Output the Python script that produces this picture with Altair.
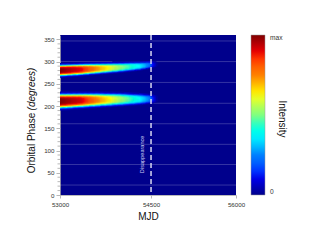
import altair as alt
import numpy as np
import pandas as pd

# ---- values ----
mjd_knots = [53000, 53330, 53660, 53990, 54320, 54480, 54600]
upper_center = [280, 282, 284.5, 287, 290, 292.5, 294]
upper_width = [11.5, 11, 10, 9, 7.5, 6.5, 5]
upper_peak = [1.0, 0.9, 0.7, 0.52, 0.36, 0.22, 0.0]
lower_center = [211, 212.5, 214, 215, 215.5, 216, 216]
lower_width = [15, 14, 13.2, 12, 10, 8.5, 7]
lower_peak = [1.0, 0.92, 0.72, 0.54, 0.37, 0.24, 0.0]

grid_phases = [22.4, 68.6, 114.0, 160.3, 206.4, 253.3, 300.2, 346.6]
y_ticks = [0, 50, 100, 150, 200, 250, 300, 350]
y_minor = [v for v in range(10, 360, 10) if v % 50 != 0]
x_ticks = [53000, 54500, 55900]
event_mjd = [54500]
event_label = ["Disappearance"]

jet_stops = [0, 0.125, 0.25, 0.375, 0.5, 0.625, 0.75, 0.875, 1.0]
jet_colors = ["#00008C", "#0000FF", "#0080FF", "#00FFFF", "#80FF80",
              "#FFFF00", "#FF8000", "#FF0000", "#800000"]

# ---- build the intensity field from the read band parameters ----
mstep, pstep = 20, 2
mjd_grid = np.arange(53000, 54620, mstep)
ph_grid = np.arange(170, 322, pstep)
M, P = np.meshgrid(mjd_grid, ph_grid, indexing="ij")
val = np.zeros_like(M, dtype=float)
for c, w, pk in [(upper_center, upper_width, upper_peak),
                 (lower_center, lower_width, lower_peak)]:
    cc = np.interp(M + mstep / 2, mjd_knots, c)
    ww = np.interp(M + mstep / 2, mjd_knots, w)
    aa = np.interp(M + mstep / 2, mjd_knots, pk)
    val += aa * np.exp(-np.abs((P + pstep / 2 - cc) / ww) ** 4)
val = np.clip(val, 0, 1)
heat = pd.DataFrame({
    "mjd": M.ravel(), "mjd2": M.ravel() + mstep * 1.5,
    "ph": P.ravel(), "ph2": P.ravel() + pstep * 1.5,
    "v": val.ravel(),
})
heat = heat[heat["v"] > 0.015]

xscale = alt.Scale(domain=[53000, 55900], nice=False, zero=False)
yscale = alt.Scale(domain=[0, 360], nice=False, zero=False)
xaxis = alt.Axis(values=x_ticks, format="d",
                 labelExpr="datum.value > 55800 ? '56000' : datum.label",
                 grid=False, tickSize=3, labelPadding=3,
                 titlePadding=4, labelFlush=False, labelOverlap=False)
yaxis = alt.Axis(values=y_ticks, grid=False, tickSize=4,
                 labelPadding=2, labelOverlap=False)

gridlines = alt.Chart(pd.DataFrame({"g": grid_phases})).mark_rule(
    color="#FFFFFF", opacity=0.2, strokeWidth=1
).encode(y=alt.Y("g:Q", scale=yscale, title="", axis=yaxis))

heatmap = alt.Chart(heat).mark_rect(clip=True).encode(
    x=alt.X("mjd:Q", scale=xscale, title="MJD", axis=xaxis),
    x2="mjd2:Q",
    y=alt.Y("ph:Q", scale=yscale, title="", axis=yaxis),
    y2="ph2:Q",
    color=alt.Color("v:Q", scale=alt.Scale(domain=jet_stops, range=jet_colors),
                    legend=alt.Legend(orient="none", legendX=191, legendY=0,
                                      direction="vertical", gradientLength=160,
                                      gradientThickness=14, title="",
                                      values=[0, 1],
                                      labelExpr="datum.value >= 1 ? 'max' : '0'",
                                      labelFontSize=6.6, labelOffset=5,
                                      labelColor="#333",
                                      gradientStrokeColor="#999",
                                      gradientStrokeWidth=0.5, padding=0)),
)

event = alt.Chart(pd.DataFrame({"m": event_mjd})).mark_rule(
    color="#D8D8F0", strokeWidth=1.5, strokeDash=[5, 3]
).encode(x=alt.X("m:Q", scale=xscale, title="MJD", axis=xaxis))

event_text = alt.Chart(pd.DataFrame({"m": [54350], "p": [91.5], "t": event_label})).mark_text(
    angle=270, fontSize=5.6, color="#D0D0F4", font="Liberation Sans",
    align="center", baseline="middle"
).encode(x=alt.X("m:Q", scale=xscale, title="MJD", axis=xaxis),
         y=alt.Y("p:Q", scale=yscale, title="", axis=yaxis), text="t:N")

minor = alt.Chart(pd.DataFrame({"p": y_minor})).mark_rule(
    color="#999999", strokeWidth=0.7
).encode(x=alt.value(-2.5), x2=alt.value(0),
         y=alt.Y("p:Q", scale=yscale, title="", axis=yaxis))

ytitle1 = alt.Chart(pd.DataFrame({"t": ["Orbital Phase"]})).mark_text(
    angle=270, fontSize=10, font="Liberation Sans", color="#111",
    align="center", baseline="middle"
).encode(x=alt.value(-28), y=alt.value(108), text="t:N")

ytitle2 = alt.Chart(pd.DataFrame({"t": ["(degrees)"]})).mark_text(
    angle=270, fontSize=10, font="Liberation Sans", color="#111",
    fontStyle="italic", align="center", baseline="middle"
).encode(x=alt.value(-28), y=alt.value(54), text="t:N")

ctitle = alt.Chart(pd.DataFrame({"t": ["Intensity"]})).mark_text(
    angle=90, fontSize=10, font="Liberation Sans", color="#111",
    align="center", baseline="middle"
).encode(x=alt.value(222), y=alt.value(84), text="t:N")

chart = alt.layer(
    gridlines, heatmap, event, event_text, minor, ytitle1, ytitle2, ctitle
).properties(
    width=176, height=160,
    autosize=alt.AutoSizeParams(type="none"),
    padding={"left": 52, "top": 27, "right": 71, "bottom": 38},
).configure_view(
    fill="#00008C", stroke=None
).configure_axis(
    labelFont="Liberation Sans", labelFontSize=6.2, labelColor="#333",
    titleFont="Liberation Sans", titleFontSize=10, titleColor="#111",
    titleFontWeight="normal",
    domainColor="#AAAAAA", tickColor="#999999", tickWidth=0.7, domainWidth=0.8,
).configure_legend(
    labelFont="Liberation Sans"
)

chart.save("out.html", embed_options={"renderer": "svg", "actions": False})
